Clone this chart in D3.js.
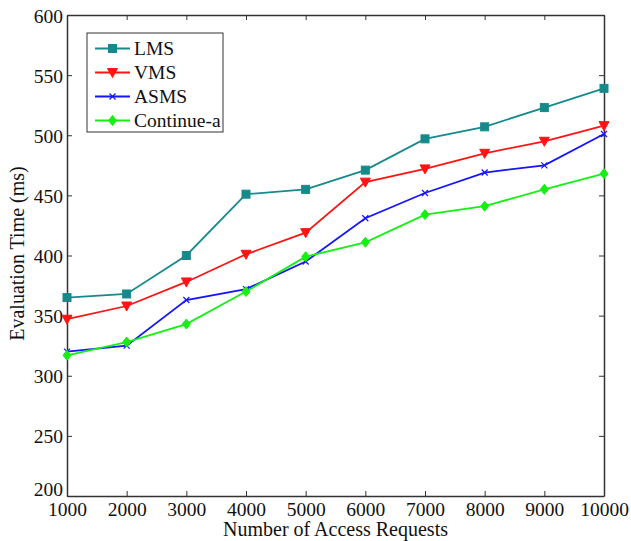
<!DOCTYPE html>
<html>
<head>
<meta charset="utf-8">
<script src="https://cdn.jsdelivr.net/npm/d3@7"></script>
<style>
  html, body { margin: 0; padding: 0; background: #fff; }
  svg { display: block; }
  text { font-family: "Liberation Serif", "Times New Roman", serif; fill: #111; }
</style>
</head>
<body>
<div id="chart"></div>
<script>
// Access request counts on the x axis
const requests = [1000, 2000, 3000, 4000, 5000, 6000, 7000, 8000, 9000, 10000];

// Evaluation time (ms) per scheme
const lms       = [365, 368, 400, 451, 455, 471, 497, 507, 523, 539];
const vms       = [347, 358, 378, 401, 419, 461, 472, 485, 495, 508];
const asms      = [320, 325, 363, 372, 395, 431, 452, 469, 475, 501];
const continueA = [317, 328, 343, 370, 399, 411, 434, 441, 455, 468];

const seriesNames = ["LMS", "VMS", "ASMS", "Continue-a"];
const xTicks = [1000, 2000, 3000, 4000, 5000, 6000, 7000, 8000, 9000, 10000];
const yTicks = [200, 250, 300, 350, 400, 450, 500, 550, 600];

const W = 631, H = 541;
const margin = { top: 15, right: 27, bottom: 45, left: 67 };
const iw = W - margin.left - margin.right;
const ih = H - margin.top - margin.bottom;
const fontSize = 19.5;

const svg = d3.select("#chart").append("svg")
  .attr("width", W).attr("height", H);

const g = svg.append("g").attr("transform", `translate(${margin.left},${margin.top})`);

const x = d3.scaleLinear().domain([1000, 10000]).range([0, iw]);
const y = d3.scaleLinear().domain([200, 600]).range([ih, 0]);

const axisColor = "#333";
const tickLen = 5;

// Axes: labelled bottom/left, unlabelled ticks on top/right, all pointing inward
const axisB = g.append("g").attr("transform", `translate(0,${ih})`)
  .call(d3.axisBottom(x).tickValues(xTicks).tickSizeInner(-tickLen).tickSizeOuter(0).tickFormat(d3.format("d")));
const axisT = g.append("g")
  .call(d3.axisTop(x).tickValues(xTicks).tickSizeInner(-tickLen).tickSizeOuter(0).tickFormat(""));
const axisL = g.append("g")
  .call(d3.axisLeft(y).tickValues(yTicks).tickSizeInner(-tickLen).tickSizeOuter(0).tickFormat(d3.format("d")));
const axisR = g.append("g").attr("transform", `translate(${iw},0)`)
  .call(d3.axisRight(y).tickValues(yTicks).tickSizeInner(-tickLen).tickSizeOuter(0).tickFormat(""));

[axisB, axisT, axisL, axisR].forEach(a => {
  a.select(".domain").attr("stroke", axisColor).attr("stroke-width", 1.5);
  a.selectAll(".tick line").attr("stroke", axisColor).attr("stroke-width", 1);
  a.selectAll("text").attr("font-size", fontSize).attr("font-family", "Liberation Serif").attr("fill", "#111");
});
axisB.selectAll(".tick text").attr("y", 20).attr("dy", 0);
axisL.selectAll(".tick text").attr("x", -4).attr("dy", "0.36em");
// keep the lowest y label clear of the first x label at the corner
axisL.selectAll(".tick").filter(d => d === 200).select("text").attr("dy", "-0.05em");

// Axis titles
svg.append("text")
  .attr("x", margin.left + iw / 2).attr("y", 536)
  .attr("text-anchor", "middle").attr("font-size", fontSize + 0.5)
  .text("Number of Access Requests");
svg.append("text")
  .attr("transform", `translate(24,${margin.top + ih / 2 - 2}) rotate(-90)`)
  .attr("text-anchor", "middle").attr("font-size", fontSize + 0.5)
  .text("Evaluation Time (ms)");

const series = [
  { name: seriesNames[0], values: lms,       color: "#168a8a", marker: "square" },
  { name: seriesNames[1], values: vms,       color: "#ff1414", marker: "triangle-down" },
  { name: seriesNames[2], values: asms,      color: "#1414ff", marker: "x" },
  { name: seriesNames[3], values: continueA, color: "#14f014", marker: "diamond" }
];

function drawMarker(sel, type, color) {
  if (type === "square") {
    sel.append("rect").attr("x", -4).attr("y", -4).attr("width", 8).attr("height", 8)
      .attr("fill", color).attr("stroke", color);
  } else if (type === "triangle-down") {
    sel.append("path").attr("d", "M-5,-4L5,-4L0,5Z").attr("fill", color).attr("stroke", color);
  } else if (type === "x") {
    sel.append("path").attr("d", "M-3,-3L3,3M-3,3L3,-3").attr("stroke", color).attr("stroke-width", 1.2).attr("fill", "none");
  } else if (type === "diamond") {
    sel.append("path").attr("d", "M0,-5L4,0L0,5L-4,0Z").attr("fill", color).attr("stroke", color);
  }
}

const line = d3.line().x((d, i) => x(requests[i])).y(d => y(d));

series.forEach(s => {
  g.append("path").datum(s.values)
    .attr("fill", "none").attr("stroke", s.color).attr("stroke-width", 1.8)
    .attr("d", line);
  s.values.forEach((v, i) => {
    const m = g.append("g").attr("transform", `translate(${x(requests[i])},${y(v)})`);
    drawMarker(m, s.marker, s.color);
  });
});

// Legend
const legend = svg.append("g").attr("transform", "translate(87,33)");
legend.append("rect").attr("width", 136).attr("height", 99)
  .attr("fill", "#fff").attr("stroke", axisColor).attr("stroke-width", 1);
series.forEach((s, i) => {
  const ly = 15.5 + i * 24;
  legend.append("line").attr("x1", 8).attr("x2", 43).attr("y1", ly).attr("y2", ly)
    .attr("stroke", s.color).attr("stroke-width", 1.8);
  const m = legend.append("g").attr("transform", `translate(25.5,${ly})`);
  drawMarker(m, s.marker, s.color);
  legend.append("text").attr("x", 47).attr("y", ly).attr("dy", "0.35em")
    .attr("font-size", fontSize).text(s.name);
});
</script>
</body>
</html>
